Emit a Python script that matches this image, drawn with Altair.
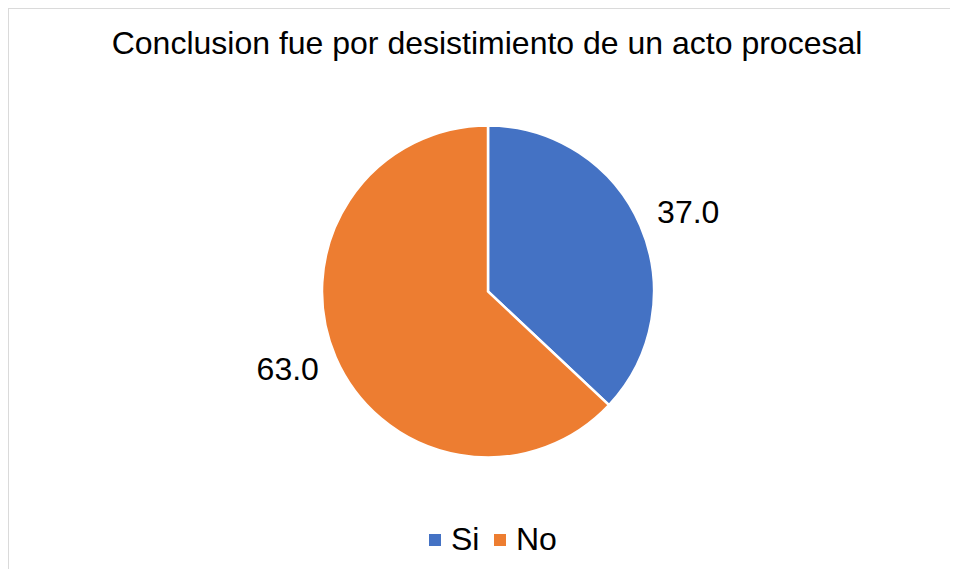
import altair as alt
import pandas as pd

categories = ["Si", "No"]
values = [37.0, 63.0]
labels = ["37.0", "63.0"]
order = [0, 1]
colors = ["#4472C4", "#ED7D31"]

df = pd.DataFrame({"cat": categories, "val": values, "label": labels, "ord": order})

FONT = "Liberation Sans"
W, H = 942, 561
CX, CY = 480, 283.5
BORDER = "#D9D9D9"

base = alt.Chart(df).encode(
    theta=alt.Theta("val:Q", stack=True),
    order=alt.Order("ord:Q"),
)

pie = base.mark_arc(stroke="white", strokeWidth=2.5).encode(
    color=alt.Color(
        "cat:N",
        scale=alt.Scale(domain=categories, range=colors),
        sort=categories,
        legend=alt.Legend(
            title=None,
            orient="none",
            legendX=411,
            legendY=516,
            direction="horizontal",
            symbolType="square",
            symbolSize=144,
            symbolStrokeWidth=0,
            labelFontSize=32,
            labelFont=FONT,
            labelColor="#000000",
            labelOffset=0,
            columnPadding=4,
            padding=0,
        ),
    ),
    x=alt.value(CX),
    y=alt.value(CY),
    radius=alt.value(166),
)

text = base.mark_text(
    font=FONT, fontSize=32, color="#000000", baseline="middle", align="center",
    thetaOffset=0.036,
).encode(
    text="label:N",
    x=alt.value(CX),
    y=alt.value(CY),
    radius=alt.value(215),
)

frame_df = pd.DataFrame({"k": [0]})
left_border = alt.Chart(frame_df).mark_rule(color=BORDER, strokeWidth=1.5).encode(
    x=alt.value(0), y=alt.value(0), y2=alt.value(H)
)
top_border = alt.Chart(frame_df).mark_rule(color=BORDER, strokeWidth=1.5).encode(
    x=alt.value(0), x2=alt.value(W), y=alt.value(0)
)

chart = (
    alt.layer(left_border, top_border, pie, text)
    .properties(
        width=W,
        height=H,
        padding=0,
        autosize=alt.AutoSizeParams(type="none"),
        title=alt.TitleParams(
            "Conclusion fue por desistimiento de un acto procesal",
            font=FONT,
            fontSize=32,
            fontWeight="normal",
            color="#000000",
            anchor="middle",
            offset=-86,
            dx=8,
            baseline="bottom",
        ),
    )
    .configure_view(strokeWidth=0)
    .configure(background="white")
)

chart.save("out.html", embed_options={"renderer": "svg", "actions": False})
